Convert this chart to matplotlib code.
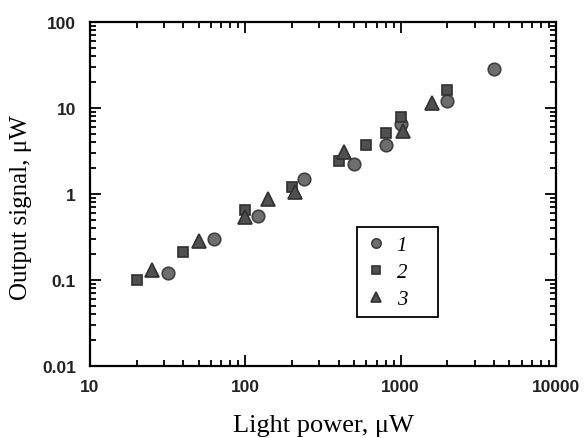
import matplotlib
matplotlib.use("Agg")
import matplotlib.pyplot as plt
from matplotlib.ticker import LogLocator, NullFormatter, FuncFormatter

# series 1 (circles)
x1 = [32, 63, 120, 240, 500, 800, 1000, 2000, 4000]
y1 = [0.12, 0.30, 0.56, 1.5, 2.2, 3.7, 6.5, 12, 28]
# series 2 (squares)
x2 = [20, 40, 100, 200, 400, 600, 800, 1000, 2000]
y2 = [0.10, 0.21, 0.65, 1.2, 2.4, 3.7, 5.1, 7.8, 16]
# series 3 (triangles)
x3 = [25, 50, 100, 140, 210, 430, 1030, 1600]
y3 = [0.13, 0.28, 0.54, 0.88, 1.05, 3.1, 5.4, 11.4]

labels = ["1", "2", "3"]

fig = plt.figure(figsize=(5.84, 4.39), dpi=100)
ax = fig.add_axes([0.154, 0.164, 0.798, 0.784])

ax.plot(x1, y1, 'o', ms=9, mfc='#6e6e6e', mec='#404040', mew=1.2, label=labels[0])
ax.plot(x2, y2, 's', ms=7.5, mfc='#505050', mec='#303030', mew=1.2, label=labels[1])
ax.plot(x3, y3, '^', ms=10, mfc='#505050', mec='#303030', mew=1.2, label=labels[2])

ax.set_xscale('log')
ax.set_yscale('log')
ax.set_xlim(10, 10000)
ax.set_ylim(0.01, 100)

fmt = FuncFormatter(lambda v, p: f"{v:g}")
ax.xaxis.set_major_formatter(fmt)
ax.yaxis.set_major_formatter(fmt)
ax.xaxis.set_minor_locator(LogLocator(base=10, subs=range(2, 10)))
ax.yaxis.set_minor_locator(LogLocator(base=10, subs=range(2, 10)))
ax.xaxis.set_minor_formatter(NullFormatter())
ax.yaxis.set_minor_formatter(NullFormatter())

ax.tick_params(which='both', direction='in', top=True, right=True, width=1.3)
ax.tick_params(which='major', length=8)
ax.tick_params(which='minor', length=4.5)
ax.tick_params(axis='x', pad=9.5)
ax.tick_params(axis='y', pad=10)
for lab in ax.get_xticklabels() + ax.get_yticklabels():
    lab.set_family('Liberation Sans')
    lab.set_fontsize(12.5)
    lab.set_fontweight('bold')
    lab.set_color('#222222')
for sp in ax.spines.values():
    sp.set_linewidth(1.6)

ax.set_xlabel("Light power, \u03bcW", family='Liberation Serif', fontsize=19, labelpad=14)
ax.set_ylabel("Output signal, \u03bcW", family='Liberation Serif', fontsize=18)
ax.yaxis.set_label_coords(-0.124, 0.462)

leg = ax.legend(loc='lower left', bbox_to_anchor=(0.573, 0.142, 0.174, 0.25), mode='expand',
                fancybox=False, borderaxespad=0, framealpha=1, edgecolor='black',
                markerscale=0.75, handlelength=1.0, handletextpad=0.5, borderpad=0.4,
                labelspacing=0.35,
                prop={'family': 'Liberation Serif', 'style': 'italic', 'size': 15})
leg.get_frame().set_linewidth(1.3)

fig.savefig("out.png", dpi=100)
